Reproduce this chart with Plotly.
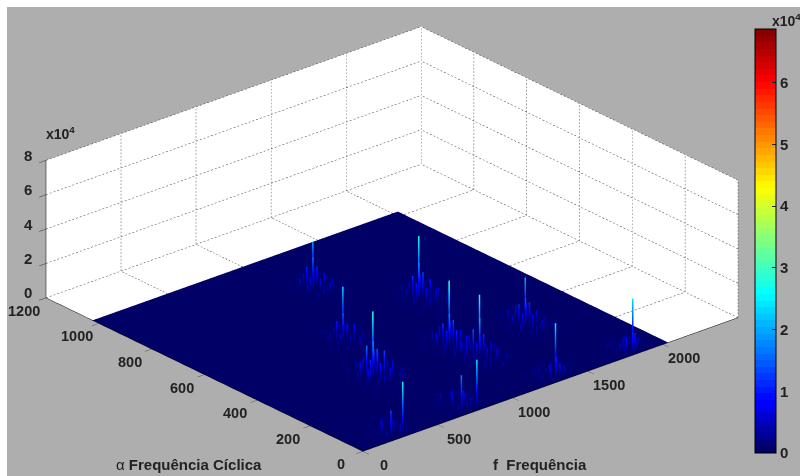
import plotly.graph_objects as go

F_TICKS = [0, 500, 1000, 1500, 2000]
ALPHA_TICKS = [0, 200, 400, 600, 800, 1000, 1200]
Z_TICKS = [0, 20000, 40000, 60000, 80000]
Z_LABELS = ["0", "2", "4", "6", "8"]
CB_TICKS = [0, 10000, 20000, 30000, 40000, 50000, 60000]
CB_LABELS = ["0", "1", "2", "3", "4", "5", "6"]
F_MAX, ALPHA_MAX, Z_MAX, C_MAX = 2500, 1200, 80000, 68700
F_DATA, ALPHA_DATA = 2035, 1024

# main spikes
SPIKE_F = [287, 769, 1240, 1360, 1860, 674, 1210, 1668, 849, 1471, 1150]
SPIKE_ALPHA = [12, 5, 263, 43, 35, 345, 361, 333, 558, 624, 843]
SPIKE_Z = [30700, 29000, 33000, 29000, 28400, 34800, 34800, 24400, 27800, 33000, 23200]

# small peaks around each main spike: offsets and heights (x1000)
PEAK_DF = [-60, -39, -80, -26, -97, -10, -115, 7, -131, 24, -145, 45, -165, 61, -185, 78, -69, -31, -91, -1, -120, 34, -155, -50, -85, -7, -124, 28, -61, -20,
           -212, -192, -171, -225, 98, 119, 85, 132, -104, 11, -77, -16, -205, 105, -138, 42, -252, 152, -178, 82, -63, -34, -111, 18]
PEAK_DA = [-35, -38, -22, -19, -46, -49, -17, -14, -57, -62, -25, -30, -70, -76, -11, -6, -68, -84, -95, -104, -87, -111, -104, 8, 16, 19, 24, 29, -124, -140,
           -118, -44, 0, -97, -124, -50, 10, -95, 51, 54, 71, 67, 17, 21, -152, -154, -70, -68, 44, 48, -165, -172, -145, -149]
PEAK_H = [
    [15, 9, 11, 7, 7, 6, 6, 4, 4, 3, 3, 3, 3, 2, 2, 2, 7, 6, 4, 4, 3, 3, 2, 4, 3, 3, 2, 2, 3, 3, 2, 2, 2, 1, 1, 2, 1, 1, 2, 2, 1, 1, 1, 1, 2, 1, 1, 1, 1, 1, 2, 1, 1, 1],
    [20, 10, 13, 7, 8, 7, 6, 4, 4, 4, 3, 3, 3, 3, 2, 2, 8, 7, 6, 4, 4, 3, 2, 6, 4, 3, 2, 2, 3, 2, 2, 2, 2, 1, 2, 1, 2, 1, 2, 2, 2, 1, 1, 1, 2, 2, 1, 1, 1, 1, 2, 2, 1, 1],
    [24, 14, 17, 11, 11, 9, 8, 6, 6, 5, 5, 5, 3, 3, 3, 2, 9, 9, 6, 6, 5, 3, 3, 8, 6, 5, 3, 3, 5, 3, 3, 3, 3, 2, 2, 2, 2, 1, 3, 3, 2, 2, 2, 2, 2, 2, 1, 1, 2, 1, 2, 2, 2, 2],
    [13, 10, 9, 12, 6, 7, 4, 6, 4, 4, 3, 3, 3, 3, 2, 2, 7, 7, 6, 4, 3, 3, 2, 4, 3, 3, 2, 2, 3, 2, 2, 2, 2, 1, 2, 1, 2, 1, 2, 2, 1, 1, 1, 1, 2, 1, 1, 1, 1, 1, 2, 1, 1, 1],
    [13, 12, 10, 9, 6, 7, 7, 4, 4, 6, 3, 3, 3, 3, 2, 2, 6, 7, 4, 4, 3, 3, 2, 6, 4, 4, 3, 2, 3, 2, 2, 2, 2, 1, 1, 2, 2, 1, 2, 2, 2, 1, 2, 1, 2, 1, 1, 1, 1, 1, 2, 1, 1, 1],
    [22, 17, 19, 15, 13, 16, 10, 12, 9, 10, 6, 7, 4, 6, 3, 3, 12, 9, 7, 6, 6, 4, 3, 9, 7, 6, 4, 4, 4, 3, 4, 4, 3, 3, 3, 3, 2, 2, 4, 3, 3, 2, 2, 2, 2, 2, 2, 1, 2, 2, 3, 2, 2, 2],
    [20, 16, 14, 13, 12, 10, 9, 7, 6, 7, 4, 4, 4, 3, 3, 3, 13, 10, 9, 7, 6, 4, 3, 9, 6, 4, 4, 3, 4, 3, 3, 3, 3, 2, 2, 2, 2, 2, 3, 3, 2, 2, 2, 2, 2, 2, 1, 1, 2, 1, 2, 2, 2, 1],
    [17, 14, 13, 12, 10, 9, 7, 7, 6, 6, 4, 4, 3, 3, 3, 2, 10, 7, 6, 6, 4, 3, 3, 9, 7, 6, 4, 3, 3, 3, 3, 2, 3, 2, 2, 2, 2, 2, 3, 3, 2, 2, 2, 1, 2, 2, 1, 1, 2, 1, 2, 2, 1, 2],
    [17, 10, 12, 9, 7, 10, 6, 7, 4, 6, 4, 4, 3, 3, 2, 2, 7, 6, 4, 4, 4, 3, 2, 6, 4, 4, 3, 3, 3, 2, 2, 2, 2, 1, 2, 2, 2, 1, 3, 2, 2, 1, 1, 1, 2, 2, 1, 1, 1, 1, 2, 2, 1, 1],
    [22, 16, 14, 13, 12, 12, 7, 9, 6, 7, 4, 4, 3, 3, 3, 2, 10, 9, 7, 6, 4, 4, 3, 7, 6, 6, 4, 3, 4, 3, 3, 3, 2, 2, 2, 2, 2, 1, 3, 3, 2, 2, 2, 2, 2, 2, 1, 1, 2, 1, 2, 2, 2, 1],
    [19, 13, 13, 10, 9, 9, 7, 7, 6, 6, 4, 4, 3, 3, 3, 2, 9, 7, 6, 4, 4, 3, 3, 6, 4, 4, 3, 3, 3, 2, 2, 2, 2, 2, 2, 2, 2, 1, 2, 2, 2, 2, 1, 1, 2, 1, 1, 1, 1, 1, 2, 1, 1, 1],
]
# low outer peaks, same offsets round every spike
LOW_DF = [-190, -175, -125, -110, -85, -70, -35, -15, 10, 30, 65, 80, -160, -135, -100, -65, -25, 5, 40, 75, -150, -120, -80, -40, -5, 35, -210, -180, 90, 115]
LOW_DA = [-60, -20, -95, -5, -125, 20, -90, 50, -75, 5, -85, -20, -105, -130, 25, -150, 55, -140, -50, -130, 35, 45, 65, -80, -65, -100, -25, -125, -110, -75]
LOW_H = [3, 2, 4, 3, 3, 3, 4, 2, 4, 3, 3, 2, 3, 2, 3, 2, 2, 2, 3, 1, 2, 2, 2, 4, 4, 3, 1, 1, 1, 1]


def jet64():
    cols = []
    for i in range(64):
        t = (i + 0.5) / 64
        r = min(max(min(4 * t - 1.5, 4.5 - 4 * t), 0), 1)
        g = min(max(min(4 * t - 0.5, 3.5 - 4 * t), 0), 1)
        b = min(max(min(4 * t + 0.5, 2.5 - 4 * t), 0), 1)
        if i < 8:
            b = 0.4 + 0.6 * i / 7
        cols.append(f"rgb({round(r*255)},{round(g*255)},{round(b*255)})")
    scale = []
    for i, c in enumerate(cols):
        scale += [[i / 64, c], [(i + 1) / 64, c]]
    return scale


JET = jet64()
STEPS = [0, 0.12, 0.25, 0.37, 0.5, 0.62, 0.75, 0.87, 1]
sx, sy, sz = [], [], []
for f, a, z in zip(SPIKE_F, SPIKE_ALPHA, SPIKE_Z):
    for s in STEPS:
        sx.append(f); sy.append(a); sz.append(s * z)
    sx.append(None); sy.append(None); sz.append(None)
px, py, pz = [], [], []
def add_peak(f, a, h):
    a = abs(a)
    if f > F_DATA:
        return
    for s in [0, 0.25, 0.5, 0.75, 1]:
        px.append(f); py.append(a); pz.append(s * h * 1000)
    px.append(None); py.append(None); pz.append(None)
for f0, a0, hs in zip(SPIKE_F, SPIKE_ALPHA, PEAK_H):
    for df, da, h in zip(PEAK_DF, PEAK_DA, hs):
        add_peak(f0 + df, a0 + da, h)
    for df, da, h in zip(LOW_DF, LOW_DA, LOW_H):
        add_peak(f0 + df, a0 + da, h)

fig = go.Figure()
fig.add_trace(go.Surface(
    x=[0, F_DATA], y=[0, ALPHA_DATA], z=[[0, 0], [0, 0]],
    colorscale=JET, cmin=0, cmax=C_MAX,
    lighting=dict(ambient=1, diffuse=0, specular=0, fresnel=0, roughness=1),
    hoverinfo="skip",
    colorbar=dict(
        x=755 / 800, xanchor="left", y=23 / 476, yanchor="bottom",
        lenmode="pixels", len=424, thicknessmode="pixels", thickness=21,
        outlinecolor="black", outlinewidth=1, borderwidth=0, xpad=0, ypad=0,
        tickvals=CB_TICKS, ticktext=CB_LABELS, ticks="inside", ticklen=4, tickcolor="#222",
        tickfont=dict(family="Liberation Sans", size=15, color="#222", weight="bold"),
    ),
))
fig.add_trace(go.Scatter3d(
    x=px, y=py, z=pz, mode="lines", hoverinfo="skip", showlegend=False,
    line=dict(width=3, color=[0 if v is None else v for v in pz], colorscale=JET, cmin=0, cmax=Z_MAX),
))
fig.add_trace(go.Scatter3d(
    x=sx, y=sy, z=sz, mode="lines", hoverinfo="skip", showlegend=False,
    line=dict(width=3, color=[0 if v is None else v for v in sz], colorscale=JET, cmin=0, cmax=Z_MAX),
))

# dotted grid on the two back walls and floor (outside the data area)
gx, gy, gz = [], [], []
def dotted(p0, p1, n):
    for i in range(n):
        for t in (i / n, (i + 0.5) / n):
            gx.append(p0[0] + (p1[0] - p0[0]) * t)
            gy.append(p0[1] + (p1[1] - p0[1]) * t)
            gz.append(p0[2] + (p1[2] - p0[2]) * t)
        gx.append(None); gy.append(None); gz.append(None)

for f in F_TICKS + [F_MAX]:
    dotted((f, ALPHA_MAX, 0), (f, ALPHA_MAX, Z_MAX), 40)
    if f >= F_MAX:
        dotted((f, 0, 0), (f, ALPHA_MAX, 0), 90)
    else:
        dotted((f, ALPHA_DATA, 0), (f, ALPHA_MAX, 0), 15)
for a in ALPHA_TICKS:
    dotted((F_MAX, a, 0), (F_MAX, a, Z_MAX), 40)
    if a >= ALPHA_MAX:
        dotted((0, a, 0), (F_MAX, a, 0), 100)
    else:
        dotted((F_DATA, a, 0), (F_MAX, a, 0), 18)
for z in Z_TICKS:
    dotted((0, ALPHA_MAX, z), (F_MAX, ALPHA_MAX, z), 100)
    dotted((F_MAX, 0, z), (F_MAX, ALPHA_MAX, z), 90)
fig.add_trace(go.Scatter3d(
    x=gx, y=gy, z=gz, mode="lines", hoverinfo="skip", showlegend=False,
    line=dict(width=1, color="#444"),
))

def ax(vals, rng):
    return dict(range=rng, autorange=False, title=dict(text=""), tickvals=vals, ticktext=[" "] * len(vals),
                showgrid=False, zeroline=False, showline=True, linecolor="black", linewidth=1,
                ticks="outside", ticklen=9, tickcolor="#333", tickangle=0,
                showticklabels=True, tickfont=dict(size=1),
                showbackground=True, backgroundcolor="white", showspikes=False)

R = 1.6
S = 2.085
ann = dict(xref="paper", yref="paper", showarrow=False, xanchor="center", yanchor="middle")
fnt = dict(family="Liberation Sans", size=15, color="#222")
lbl = dict(family="Liberation Sans", size=14.5, color="#222")
scene_ann = (
    [dict(x=0, y=ALPHA_MAX, z=v, text=f"<b>{t}</b>", showarrow=False, xshift=-18, yshift=5, font=fnt)
     for v, t in zip(Z_TICKS, Z_LABELS)]
    + [dict(x=v, y=0, z=0, text=f"<b>{v}</b>", showarrow=False, xshift=21, yshift=-14, font=lbl)
       for v in F_TICKS]
    + [dict(x=0, y=v, z=0, text=f"<b>{v}</b>", showarrow=False, xshift=-22, yshift=-13, font=lbl)
       for v in ALPHA_TICKS]
)
fig.update_layout(
    width=800, height=476, autosize=False,
    margin=dict(l=0, r=0, t=0, b=0),
    paper_bgcolor="white",
    showlegend=False,
    shapes=[dict(type="rect", xref="paper", yref="paper", x0=7/800, x1=1, y0=0, y1=469/476,
                 fillcolor="#aeaeae", line_width=0, layer="below")],
    scene=dict(
        domain=dict(x=[0, 784 / 800], y=[0, 474 / 476]),
        bgcolor="rgba(0,0,0,0)",
        xaxis=ax(F_TICKS, [0, F_MAX]),
        yaxis=ax(ALPHA_TICKS, [0, ALPHA_MAX]),
        zaxis=ax(Z_TICKS, [0, Z_MAX]),
        aspectmode="manual",
        aspectratio=dict(x=1.0 * S, y=0.985 * S, z=0.306 * S),
        camera=dict(projection=dict(type="orthographic"),
                    up=dict(x=0, y=0, z=1), center=dict(x=0, y=0, z=0),
                    eye=dict(x=-0.590 * R, y=-0.688 * R, z=0.414 * R)),
        annotations=scene_ann,
    ),
    annotations=[
        dict(text="<b>x10<sup>4</sup></b>", x=60/800, y=1-133/476, font=dict(family="Liberation Sans", size=14, color="#222"), **ann),
        dict(text="<b>x10<sup>4</sup></b>", x=786/800, y=1-20/476, font=dict(family="Liberation Sans", size=14, color="#222"), **ann),
        dict(text="α <b>Frequência Cíclica</b>", x=189/800, y=1-464/476, font=fnt, **ann),
        dict(text="<b>f  Frequência</b>", x=540/800, y=1-464/476, font=fnt, **ann),
    ],
)
fig.write_html("out.html", config=dict(displayModeBar=False), post_script="document.body.style.margin='0';")
